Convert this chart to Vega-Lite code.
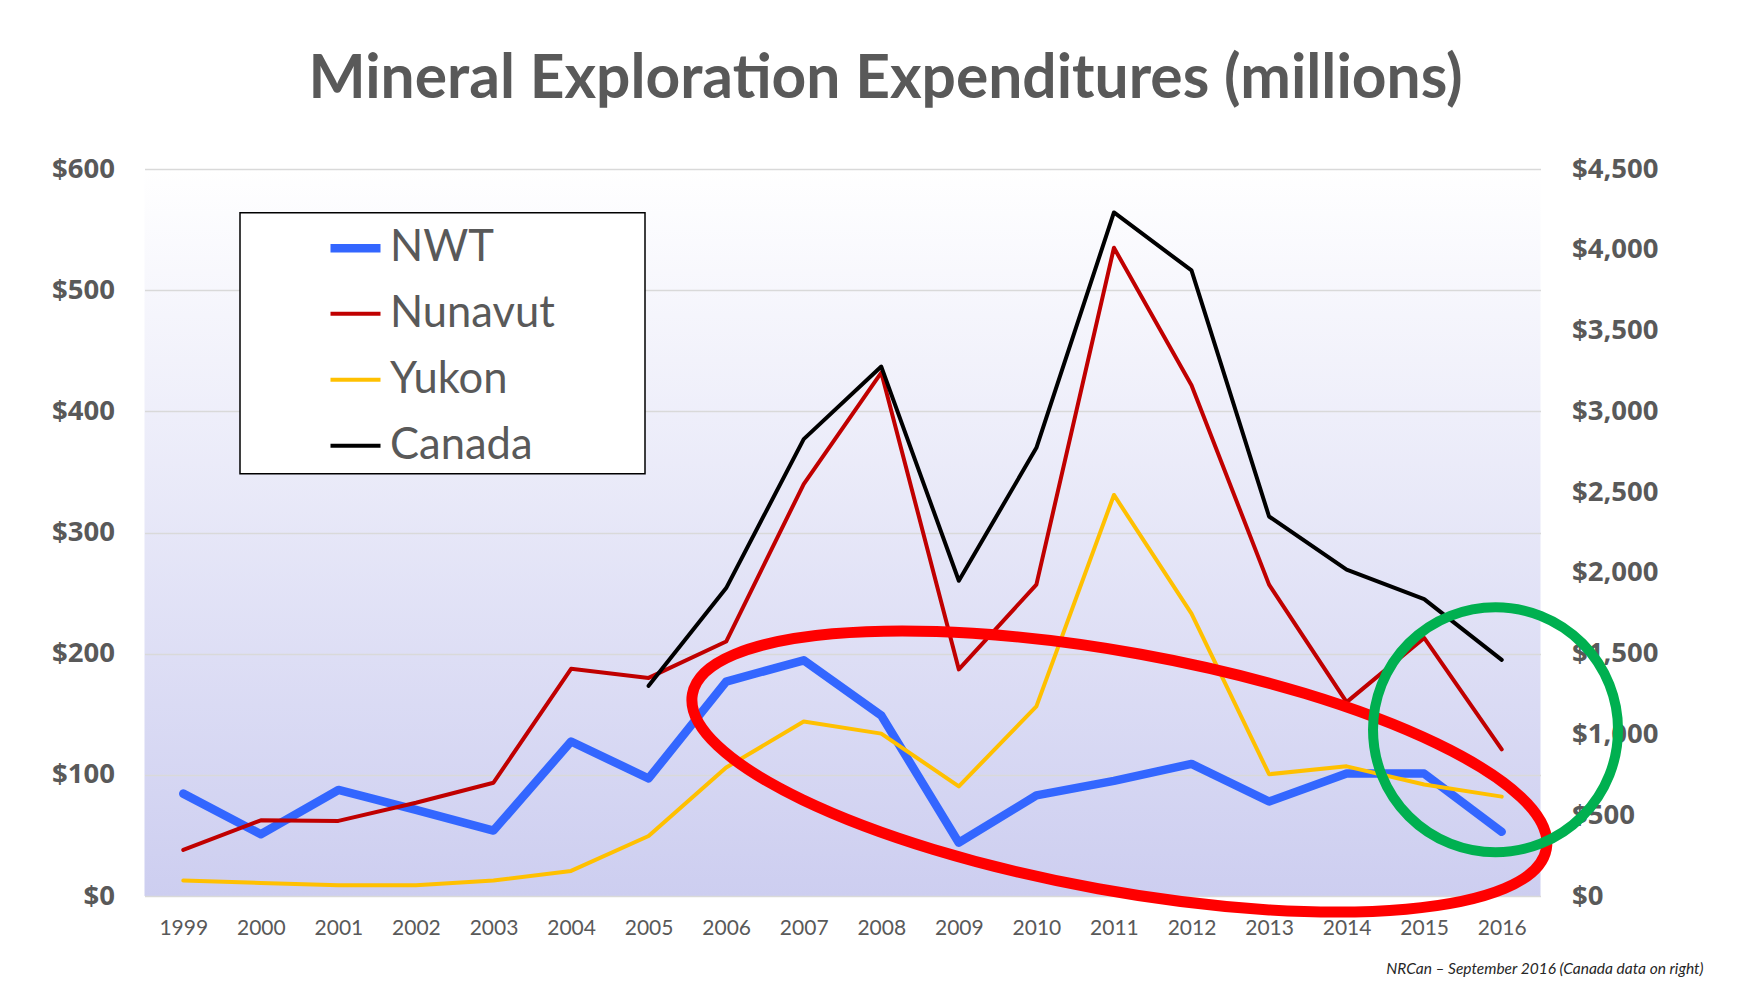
{
  "$schema": "https://vega.github.io/schema/vega-lite/v6.json",
  "width": 1396,
  "height": 727,
  "autosize": "none",
  "padding": {"left": 144.5, "top": 169, "right": 202.5, "bottom": 92},
  "background": "white",
  "title": {
    "text": "Mineral Exploration Expenditures (millions)",
    "font": "Lato",
    "fontSize": 60.5,
    "fontWeight": "bold",
    "color": "#595959",
    "anchor": "middle",
    "frame": "group",
    "dx": 43,
    "baseline": "alphabetic",
    "offset": -3
  },
  "datasets": {
    "expenditures": [
      {"year": 1999, "series": "NWT", "value": 84.5},
      {"year": 2000, "series": "NWT", "value": 51},
      {"year": 2001, "series": "NWT", "value": 87.5},
      {"year": 2002, "series": "NWT", "value": 71},
      {"year": 2003, "series": "NWT", "value": 54},
      {"year": 2004, "series": "NWT", "value": 127.5},
      {"year": 2005, "series": "NWT", "value": 97},
      {"year": 2006, "series": "NWT", "value": 177},
      {"year": 2007, "series": "NWT", "value": 194.5},
      {"year": 2008, "series": "NWT", "value": 149},
      {"year": 2009, "series": "NWT", "value": 44},
      {"year": 2010, "series": "NWT", "value": 83},
      {"year": 2011, "series": "NWT", "value": 95},
      {"year": 2012, "series": "NWT", "value": 109},
      {"year": 2013, "series": "NWT", "value": 78},
      {"year": 2014, "series": "NWT", "value": 101},
      {"year": 2015, "series": "NWT", "value": 101},
      {"year": 2016, "series": "NWT", "value": 53},
      {"year": 1999, "series": "Nunavut", "value": 38},
      {"year": 2000, "series": "Nunavut", "value": 62.5},
      {"year": 2001, "series": "Nunavut", "value": 62},
      {"year": 2002, "series": "Nunavut", "value": 77},
      {"year": 2003, "series": "Nunavut", "value": 93.5},
      {"year": 2004, "series": "Nunavut", "value": 187.5},
      {"year": 2005, "series": "Nunavut", "value": 180},
      {"year": 2006, "series": "Nunavut", "value": 210},
      {"year": 2007, "series": "Nunavut", "value": 340},
      {"year": 2008, "series": "Nunavut", "value": 432},
      {"year": 2009, "series": "Nunavut", "value": 187},
      {"year": 2010, "series": "Nunavut", "value": 257},
      {"year": 2011, "series": "Nunavut", "value": 535},
      {"year": 2012, "series": "Nunavut", "value": 421.5},
      {"year": 2013, "series": "Nunavut", "value": 257},
      {"year": 2014, "series": "Nunavut", "value": 160},
      {"year": 2015, "series": "Nunavut", "value": 213},
      {"year": 2016, "series": "Nunavut", "value": 121},
      {"year": 1999, "series": "Yukon", "value": 12.8},
      {"year": 2000, "series": "Yukon", "value": 10.8},
      {"year": 2001, "series": "Yukon", "value": 8.8},
      {"year": 2002, "series": "Yukon", "value": 8.8},
      {"year": 2003, "series": "Yukon", "value": 12.8},
      {"year": 2004, "series": "Yukon", "value": 20.7},
      {"year": 2005, "series": "Yukon", "value": 49.5},
      {"year": 2006, "series": "Yukon", "value": 106},
      {"year": 2007, "series": "Yukon", "value": 144},
      {"year": 2008, "series": "Yukon", "value": 134},
      {"year": 2009, "series": "Yukon", "value": 90.5},
      {"year": 2010, "series": "Yukon", "value": 156.5},
      {"year": 2011, "series": "Yukon", "value": 331},
      {"year": 2012, "series": "Yukon", "value": 233},
      {"year": 2013, "series": "Yukon", "value": 100.5},
      {"year": 2014, "series": "Yukon", "value": 107},
      {"year": 2015, "series": "Yukon", "value": 92},
      {"year": 2016, "series": "Yukon", "value": 82},
      {"year": 2005, "series": "Canada", "value": 1301},
      {"year": 2006, "series": "Canada", "value": 1906},
      {"year": 2007, "series": "Canada", "value": 2828},
      {"year": 2008, "series": "Canada", "value": 3277},
      {"year": 2009, "series": "Canada", "value": 1951},
      {"year": 2010, "series": "Canada", "value": 2774},
      {"year": 2011, "series": "Canada", "value": 4231},
      {"year": 2012, "series": "Canada", "value": 3872},
      {"year": 2013, "series": "Canada", "value": 2349},
      {"year": 2014, "series": "Canada", "value": 2020},
      {"year": 2015, "series": "Canada", "value": 1838},
      {"year": 2016, "series": "Canada", "value": 1462}
    ],
    "annotations": [
      {"shape": "ellipse", "year": 2011.07, "value": 102.75},
      {"shape": "circle", "year": 2015.92, "value": 137.2}
    ]
  },
  "data": {"name": "expenditures"},
  "config": {
    "view": {
      "stroke": null,
      "fill": {
        "gradient": "linear",
        "x1": 0, "y1": 0, "x2": 0, "y2": 1,
        "stops": [
          {"offset": 0, "color": "#ffffff"},
          {"offset": 1, "color": "#cdcef0"}
        ]
      }
    },
    "axisX": {
      "domain": false, "ticks": false, "grid": false,
      "labelFont": "Lato", "labelFontSize": 21, "labelColor": "#595959",
      "labelPadding": 32, "labelBaseline": "middle",
      "labelOverlap": false, "labelFlush": false,
      "titleFont": "Lato", "titleFontStyle": "italic", "titleFontWeight": "normal",
      "titleFontSize": 15.5, "titleColor": "#262626",
      "titleX": 1558.5, "titleY": 72, "titleAlign": "right", "titleAnchor": "end", "titleBaseline": "middle"
    },
    "legend": {
      "orient": "none",
      "legendX": 95.5,
      "legendY": 43.7,
      "padding": 6,
      "fillColor": "white",
      "strokeColor": "black",
      "strokeWidth": 1.5,
      "labelFont": "Lato",
      "labelFontSize": 43.5,
      "labelColor": "#595959",
      "labelOffset": 5,
      "rowPadding": 17,
      "symbolType": "stroke",
      "symbolSize": 2500,
      "symbolOffset": 80,
      "labelLimit": 0
    }
  },
  "layer": [
    {
      "transform": [{"filter": "datum.series !== 'Canada'"}],
      "mark": {"type": "line", "strokeCap": "round", "strokeJoin": "round"},
      "encoding": {
        "x": {
          "field": "year", "type": "quantitative",
          "scale": {"domain": [1998.5, 2016.5], "nice": false, "zero": false},
          "axis": {
            "values": [1999, 2000, 2001, 2002, 2003, 2004, 2005, 2006, 2007, 2008, 2009, 2010, 2011, 2012, 2013, 2014, 2015, 2016],
            "format": "d",
            "title": "NRCan – September 2016 (Canada data on right)"
          }
        },
        "y": {
          "field": "value", "type": "quantitative",
          "scale": {"domain": [0, 600], "nice": false},
          "axis": {
            "orient": "left",
            "values": [0, 100, 200, 300, 400, 500, 600],
            "format": "$,.0f", "title": null,
            "domain": false, "ticks": false,
            "labelFont": "Open Sans", "labelFontWeight": "bold", "labelFontSize": 27.5,
            "labelColor": "#595959", "labelPadding": 30,
            "grid": true, "gridColor": "#d9d9d9", "gridWidth": 1.5
          }
        },
        "color": {
          "field": "series", "type": "nominal",
          "scale": {"domain": ["NWT", "Nunavut", "Yukon", "Canada"], "range": ["#3366FF", "#C00000", "#FFC000", "#000000"]},
          "legend": {"title": null, "labelExpr": "datum.label + '\u00a0\u00a0\u00a0\u00a0\u00a0\u00a0\u00a0\u2009\u200b'"}
        },
        "strokeWidth": {
          "field": "series", "type": "nominal",
          "scale": {"type": "ordinal", "domain": ["NWT", "Nunavut", "Yukon", "Canada"], "range": [8.5, 4, 4, 4]},
          "legend": {"title": null, "labelExpr": "datum.label + '\u00a0\u00a0\u00a0\u00a0\u00a0\u00a0\u00a0\u2009\u200b'"}
        }
      }
    },
    {
      "transform": [{"filter": "datum.series === 'Canada'"}],
      "mark": {"type": "line", "strokeCap": "round", "strokeJoin": "round"},
      "encoding": {
        "x": {
          "field": "year", "type": "quantitative",
          "scale": {"domain": [1998.5, 2016.5], "nice": false, "zero": false},
          "axis": {
            "values": [1999, 2000, 2001, 2002, 2003, 2004, 2005, 2006, 2007, 2008, 2009, 2010, 2011, 2012, 2013, 2014, 2015, 2016],
            "format": "d",
            "title": "NRCan – September 2016 (Canada data on right)"
          }
        },
        "y": {
          "field": "value", "type": "quantitative",
          "scale": {"domain": [0, 4500], "nice": false},
          "axis": {
            "orient": "right",
            "values": [0, 500, 1000, 1500, 2000, 2500, 3000, 3500, 4000, 4500],
            "format": "$,.0f", "title": null,
            "domain": false, "ticks": false, "grid": false,
            "labelFont": "Open Sans", "labelFontWeight": "bold", "labelFontSize": 27.5,
            "labelColor": "#595959", "labelPadding": 31
          }
        },
        "color": {
          "field": "series", "type": "nominal",
          "scale": {"domain": ["NWT", "Nunavut", "Yukon", "Canada"], "range": ["#3366FF", "#C00000", "#FFC000", "#000000"]},
          "legend": {"title": null, "labelExpr": "datum.label + '\u00a0\u00a0\u00a0\u00a0\u00a0\u00a0\u00a0\u2009\u200b'"}
        },
        "strokeWidth": {
          "field": "series", "type": "nominal",
          "scale": {"type": "ordinal", "domain": ["NWT", "Nunavut", "Yukon", "Canada"], "range": [8.5, 4, 4, 4]},
          "legend": {"title": null, "labelExpr": "datum.label + '\u00a0\u00a0\u00a0\u00a0\u00a0\u00a0\u00a0\u2009\u200b'"}
        }
      }
    },
    {
      "data": {"name": "annotations"},
      "transform": [{"filter": "datum.shape === 'ellipse'"}],
      "mark": {
        "type": "point",
        "shape": "M -1 0 A 1 0.2747 0 1 1 1 0 A 1 0.2747 0 1 1 -1 0 Z",
        "size": 753077,
        "angle": 10.28,
        "filled": false,
        "stroke": "#FF0000",
        "strokeWidth": 11,
        "opacity": 1
      },
      "encoding": {
        "x": {
          "field": "year", "type": "quantitative",
          "scale": {"domain": [1998.5, 2016.5], "nice": false, "zero": false},
          "axis": {
            "values": [1999, 2000, 2001, 2002, 2003, 2004, 2005, 2006, 2007, 2008, 2009, 2010, 2011, 2012, 2013, 2014, 2015, 2016],
            "format": "d",
            "title": "NRCan – September 2016 (Canada data on right)"
          }
        },
        "y": {"field": "value", "type": "quantitative", "scale": {"domain": [0, 600], "nice": false}, "axis": null}
      }
    },
    {
      "data": {"name": "annotations"},
      "transform": [{"filter": "datum.shape === 'circle'"}],
      "mark": {
        "type": "point",
        "shape": "circle",
        "size": 60025,
        "filled": false,
        "stroke": "#00B050",
        "strokeWidth": 10,
        "opacity": 1
      },
      "encoding": {
        "x": {
          "field": "year", "type": "quantitative",
          "scale": {"domain": [1998.5, 2016.5], "nice": false, "zero": false},
          "axis": {
            "values": [1999, 2000, 2001, 2002, 2003, 2004, 2005, 2006, 2007, 2008, 2009, 2010, 2011, 2012, 2013, 2014, 2015, 2016],
            "format": "d",
            "title": "NRCan – September 2016 (Canada data on right)"
          }
        },
        "y": {"field": "value", "type": "quantitative", "scale": {"domain": [0, 600], "nice": false}, "axis": null}
      }
    }
  ],
  "resolve": {"scale": {"y": "independent"}}
}
